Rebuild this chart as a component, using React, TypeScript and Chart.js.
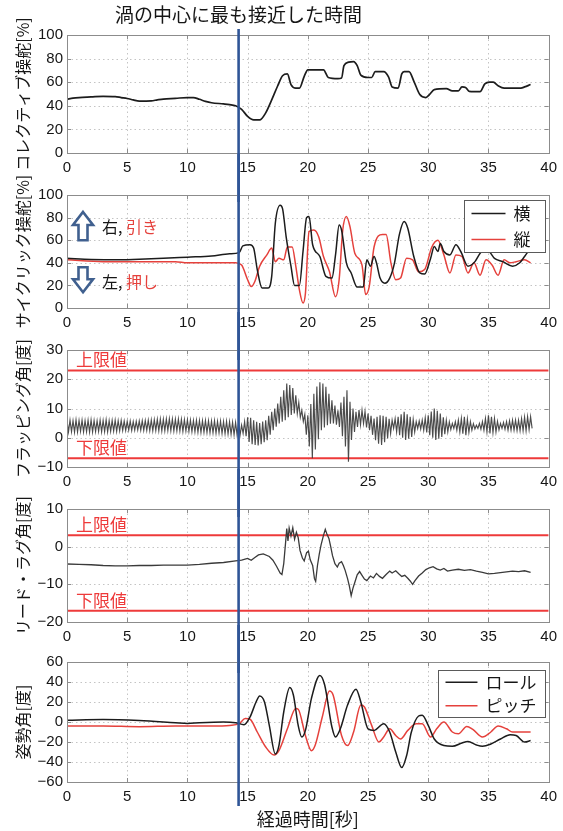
import { useEffect, useRef } from 'react';
import { Chart, registerables } from 'chart.js';

Chart.register(...registerables);

// ---- data -------------------------------------------------------------

type Pt = [number, number];

const TITLE_TEXT = '渦の中心に最も接近した時間';
const X_TITLE = '経過時間[秒]';
const CLOSEST_T = 14.25; // time of closest approach to the vortex core [s]
const X_MIN = 0;
const X_MAX = 40;
const X_STEP = 5;

// collective pitch input [%]
const collective: Pt[] = [
  [0, 45.5], [0.5, 46.5], [1, 47], [2, 47.5], [3, 48], [4, 47.8], [4.5, 47], [5, 46.2], [5.5, 45],
  [6, 44], [7, 44.2], [7.5, 45], [8, 45.7], [9, 46.3], [10, 47], [10.5, 47], [11, 45.5], [11.5, 43.8],
  [12, 42.6], [13, 41.6], [13.5, 41], [14, 40], [14.5, 37], [15, 31], [15.5, 28], [16, 28], [16.5, 34],
  [17, 45], [17.5, 57], [17.9, 65.5], [18.3, 67], [18.6, 58], [19, 55], [19.3, 55], [19.7, 65], [20, 70.5],
  [21.3, 70.5], [21.7, 64], [22.5, 63], [22.8, 63.5], [23, 74], [23.4, 77], [23.8, 77.5], [24.1, 74],
  [24.4, 66], [25, 64], [25.3, 64], [25.6, 69], [26.3, 69], [26.7, 64.5], [27, 56], [27.5, 55], [27.8, 67],
  [28, 69], [28.4, 69], [28.8, 61], [29.3, 49.5], [29.8, 47], [30.1, 49.5], [30.5, 53.7], [31.5, 54.5],
  [32, 52.6], [32.5, 52.6], [32.8, 56], [33.1, 55.5], [33.4, 52.3], [34.3, 52], [34.7, 58.5], [35.1, 60],
  [35.4, 60], [35.8, 57], [36.3, 55], [37.7, 55], [38, 56], [38.5, 58],
];

// cyclic input, lateral (横) [%]
const cyclicLat: Pt[] = [
  [0, 44], [2, 43], [4, 42.6], [6, 43.2], [8, 44], [10, 45], [12, 46], [13.5, 48], [14.3, 49], [14.6, 55],
  [15.2, 56], [15.5, 53], [15.8, 34], [16.2, 17.6], [16.7, 17.6], [17, 28], [17.3, 75], [17.7, 91], [17.9, 88],
  [18.2, 63], [18.6, 37], [18.9, 20], [19.3, 20], [19.6, 50], [19.9, 80], [20.1, 81], [20.4, 56], [21, 45.6],
  [21.5, 28], [22, 26.5], [22.3, 47], [22.6, 73.5], [22.8, 69], [23.2, 40], [23.6, 31], [24.1, 18.5],
  [24.6, 18.5], [24.9, 42.6], [25.2, 37], [25.5, 45.6], [25.7, 40], [26, 26.5], [26.4, 22], [26.8, 26.5],
  [27.2, 40], [27.6, 65], [28, 76.5], [28.3, 70.5], [28.8, 45.6], [29.3, 31], [29.7, 30], [30.2, 44],
  [30.5, 54.4], [30.8, 50], [31, 57], [31.3, 50], [31.8, 47], [32.3, 56], [32.7, 50], [33.3, 37], [33.8, 40],
  [34.5, 50], [35, 50], [35.5, 44], [36.2, 41], [37, 37], [37.6, 40], [38, 45.6], [38.5, 53],
];

// cyclic input, longitudinal (縦) [%]
const cyclicLon: Pt[] = [
  [0, 42.6], [3, 41], [6, 41], [9, 41], [10, 40], [14, 40], [14.5, 38], [15, 25], [15.3, 19], [15.6, 23.5],
  [16, 37], [16.6, 47], [17, 53], [17.3, 41], [17.6, 44], [18, 42.6], [18.3, 54], [18.7, 54], [19, 37],
  [19.3, 16], [19.6, 4.4], [19.8, 13], [20.1, 67.6], [20.5, 69], [20.9, 63], [21.3, 45.6], [21.8, 32],
  [22.3, 10], [22.6, 25], [22.9, 69], [23.2, 81], [23.5, 72], [23.9, 48.5], [24.5, 38], [24.8, 12],
  [25.1, 19], [25.5, 54], [26.2, 65], [26.5, 65], [26.9, 40], [27.3, 25], [27.7, 26.5], [28.2, 44],
  [28.7, 42.6], [29.2, 32], [29.7, 34], [30.3, 54], [30.8, 60], [31.3, 47], [31.8, 31], [32.3, 47],
  [32.8, 45.6], [33.3, 31], [33.8, 40], [34.3, 29], [34.8, 42.6], [35.3, 38], [35.8, 29], [36.3, 42.6],
  [36.8, 40], [37.3, 41], [38, 42.6], [38.5, 40],
];

// flapping angle [deg]: upper / lower swing of each 0.25 s sample
const FLAP_STEP = 0.25;
const flapHi: number[] = [
  5.9, 6.0, 5.8, 6.1, 5.9, 6.0, 5.8, 6.0, 6.1, 5.9, 5.8, 6.0, 5.9, 6.1, 5.8, 5.9, 6.0, 5.8, 5.9, 5.7,
  5.6, 5.7, 5.5, 5.6, 5.7, 5.8, 5.9, 6.0,
  6.1, 6.2, 6.3, 6.4, 6.3, 6.4, 6.5, 6.4, 6.3, 6.4, 6.3, 6.2,
  6.1, 6.0, 5.9, 6.0, 5.9, 5.8, 5.9, 5.8,
  5.7, 5.8, 5.6, 5.7, 5.5, 5.6, 5.5, 5.3, 5.2,
  5.0, 4.3, 5.5, 7.0, 6.8, 6.0, 5.5, 5.0, 5.5, 6.0,
  7.5, 8.9, 10.0, 11.7, 14.0, 16.2, 18.5, 18.0, 17.0, 14.5,
  12.0, 9.4, 8.0, 7.7, 11.5, 15.0, 17.5, 19.0, 18.5, 17.4,
  15.0, 12.8, 11.0, 9.4, 12.0, 14.0, 16.2, 12.3, 10.0, 8.9,
  9.5, 9.4, 9.0, 8.3, 7.5, 6.6, 7.2, 7.7, 7.5, 7.2,
  6.5, 6.0, 6.5, 7.2, 8.0, 8.9, 8.0, 7.2, 6.2, 5.5,
  5.7, 6.0, 6.8, 7.7, 9.0, 10.0, 9.2, 8.3, 7.0, 6.0,
  5.4, 4.9, 5.5, 6.0, 6.6, 7.2, 6.4, 5.5, 4.8, 4.3,
  4.9, 5.5, 6.6, 7.7, 7.2, 6.6, 5.6, 4.9, 5.2, 5.5,
  5.8, 6.0, 6.0, 6.0, 6.5, 7.0, 7.2, 7.2,
];
const flapLo: number[] = [
  2.0, 2.1, 1.9, 2.0, 2.2, 2.0, 2.1, 1.9, 2.0, 2.1, 2.2, 2.0, 2.1, 2.0, 2.2, 2.3, 2.2, 2.4, 2.5, 2.5,
  2.6, 2.5, 2.6, 2.7, 2.6, 2.5, 2.5, 2.4,
  2.4, 2.5, 2.4, 2.3, 2.4, 2.5, 2.4, 2.3, 2.4, 2.3, 2.2, 2.3,
  2.2, 2.1, 2.0, 1.9, 1.8, 1.9, 1.8, 1.7,
  1.7, 1.6, 1.7, 1.5, 1.4, 1.3, 1.2, 1.0, 0.9,
  1.0, 1.5, 0.5, -1.4, -2.2, -2.5, -2.6, -2.2, -1.5, -0.8,
  1.0, 2.6, 3.8, 4.9, 5.5, 6.0, 7.0, 7.8, 8.3, 8.3,
  7.0, 5.5, 1.0, -3.0, -7.0, -4.0, -0.5, 2.6, 3.5, 4.3,
  4.8, 4.9, 4.5, 3.7, 0.5, -3.0, -8.2, -0.8, 2.0, 3.7,
  4.5, 4.9, 3.5, 2.6, 1.0, -0.8, -2.0, -2.5, -1.5, -0.2,
  1.5, 3.2, 2.0, 0.9, 0.0, -0.8, -0.3, 0.3, 2.0, 3.2,
  3.0, 2.6, 1.8, 0.9, 0.0, -0.8, -0.3, 0.3, 1.2, 2.0,
  2.8, 3.2, 2.6, 2.0, 1.4, 0.9, 1.8, 2.6, 3.0, 3.2,
  2.9, 2.6, 2.0, 1.5, 1.8, 2.0, 2.7, 3.2, 2.9, 2.6,
  2.6, 2.6, 2.5, 2.4, 2.4, 2.4, 2.8, 3.2,
];
const FLAP_LIMITS = { upper: 23, lower: -7 };

// lead-lag angle [deg]
const leadLag: Pt[] = [
  [0, -4.6], [1, -4.7], [2, -4.8], [3, -5.0], [4, -5.1], [5, -5.1], [6, -5.0], [7, -5.0], [8, -4.9],
  [9, -4.9], [10, -4.9], [11, -4.7], [12, -4.4], [13, -4.2], [14, -3.8], [14.5, -3.6], [15, -3.1],
  [15.3, -3.6], [15.6, -2.9], [15.9, -2.2], [16.3, -1.9], [16.8, -2.6], [17.1, -3.6], [17.4, -5.2],
  [17.7, -7.0], [17.85, -7.4], [18.0, -4.5], [18.15, 1.0], [18.25, 4.8], [18.35, 1.5], [18.45, 4.9],
  [18.6, 2.8], [18.75, 5.0], [18.9, 2.0], [19.05, 3.8], [19.2, 2.4], [19.35, -1.0], [19.55, -3.0],
  [19.7, -3.8], [19.9, -1.6], [20.05, -1.2], [20.2, -3.5], [20.4, -5.0], [20.55, -8.5], [20.65, -9.2],
  [20.8, -5.0], [20.95, -2.0], [21.1, 0.5], [21.3, 3.0], [21.45, 4.6], [21.6, 3.2], [21.75, 2.2],
  [21.9, 0.0], [22.05, -2.4], [22.25, -4.5], [22.45, -5.4], [22.6, -4.4], [22.8, -4.0], [22.95, -5.0],
  [23.1, -6.3], [23.3, -8.5], [23.45, -10.5], [23.6, -13.0], [23.75, -11.0], [23.9, -9.5], [24.1, -7.5],
  [24.3, -6.6], [24.5, -7.6], [24.7, -8.6], [24.9, -9.0], [25.2, -7.8], [25.45, -8.3], [25.7, -7.1],
  [25.95, -7.9], [26.2, -8.4], [26.5, -7.4], [26.8, -6.5], [27.0, -7.0], [27.3, -6.4], [27.55, -7.2],
  [27.8, -7.9], [28.05, -7.6], [28.3, -8.4], [28.5, -9.1], [28.7, -10.0], [28.9, -9.0], [29.2, -7.8],
  [29.5, -7.0], [29.8, -6.1], [30.1, -5.6], [30.4, -5.3], [30.7, -5.9], [31.0, -6.2], [31.3, -5.8],
  [31.6, -6.5], [32.0, -6.2], [32.5, -6.0], [33.0, -6.3], [33.5, -6.1], [34.0, -6.5], [34.5, -6.8],
  [35.0, -7.2], [35.5, -7.1], [36.0, -6.9], [36.5, -6.7], [37.0, -6.5], [37.5, -6.6], [38.0, -6.4],
  [38.5, -6.8],
];
const LAG_LIMITS = { upper: 3, lower: -17 };

// attitude angles [deg]
const roll: Pt[] = [
  [0, 1.7], [3, 2.4], [6, 1.4], [9, -0.7], [10, -1.4], [11, -0.7], [13, 0], [14, -0.7], [14.7, -2.7],
  [15.2, 5], [15.7, 20], [16, 26], [16.4, 20], [16.8, -3.4], [17.3, -32], [17.6, -23.6], [18, 10],
  [18.5, 34.5], [18.8, 27], [19.2, -3.4], [19.5, -15], [19.8, -8.4], [20.3, 23.6], [21, 46.6], [21.4, 37],
  [22, -5], [22.3, -15], [22.7, -6.8], [23.3, 17], [24, 32.8], [24.4, 20], [25, -6.8], [25.5, -8.4],
  [26.3, -1.7], [26.8, -10], [27.3, -30], [27.8, -45.6], [28.2, -33.8], [28.6, -10], [29.2, 6], [29.5, 6.8],
  [30, -3.4], [30.5, -17], [31.3, -23.6], [32, -24.3], [32.8, -21], [33.3, -19.6], [34, -23], [34.5, -24.3],
  [35.2, -22], [36, -17], [36.8, -12.8], [37.3, -13.5], [38, -20], [38.5, -18.6],
];
const pitch: Pt[] = [
  [0, -4], [3, -4], [6, -4.7], [9, -4], [12, -4], [13.5, -3.4], [14.3, -1.7], [14.8, 3.4], [15.2, 2.7],
  [15.8, -10], [16.5, -25], [17.2, -33], [17.6, -28.7], [18.3, -6.8], [19, 13.5], [19.2, 12.8],
  [19.8, -13.5], [20.3, -28.7], [20.6, -23.6], [21.2, 5], [21.8, 31], [22.1, 27], [22.8, -13.5],
  [23.3, -23.6], [23.8, -10], [24.4, 17], [24.7, 15], [25.3, -3.4], [25.9, -20], [26.3, -15], [26.8, -6.8],
  [27.3, -13.5], [27.7, -17], [28.3, -8.4], [29, -1.7], [29.5, -1.7], [30.2, -15], [30.7, -6.8],
  [31.3, 0], [32, -10], [32.5, -11.8], [33.2, -4.4], [33.7, -7.4], [34.5, -15], [35.2, -10], [35.8, -4],
  [36.5, -6.8], [37, -10], [38.5, -10],
];

// ---- styling ----------------------------------------------------------

const W = 563;
const H = 831;
const PLOT_LEFT = 67;
const PLOT_RIGHT = 551;
const X_AXIS_H = 25;
const OVERLAP = 24; // canvases are transparent and overlap so long labels are not cut
const FONT_JP = '"Noto Sans CJK JP", "Noto Sans", sans-serif';
const FONT_NUM = 'Arial, "Liberation Sans", sans-serif';
const INK = '#161616';
const LINE_BLACK = '#1c1c1c';
const LINE_RED = '#e5413c';
const LIMIT_RED = '#ee3a3a';
const MARK_BLUE = '#2f5597';
const ARROW_BLUE = '#40608f';

const toXY = (pts: Pt[]) => pts.map(([x, y]) => ({ x, y }));

// blade flapping trace: alternate between the upper and lower swing of each sample
const flapTrace = () => {
  const out: { x: number; y: number }[] = [];
  flapHi.forEach((hi, i) => {
    const t = i * FLAP_STEP;
    out.push({ x: t, y: hi });
    out.push({ x: t + FLAP_STEP / 2, y: flapLo[i] });
  });
  return out;
};

const limitLine = (v: number) => ({
  data: [{ x: X_MIN, y: v }, { x: X_MAX, y: v }],
  borderColor: LIMIT_RED,
  borderWidth: 2,
  pointRadius: 0,
  order: 2,
});

interface LegendItem { label: string; color: string }
interface PanelDef {
  key: string;
  top: number; // nominal band top (page px)
  bottom: number; // nominal band bottom (page px)
  plotTop: number;
  plotBottom: number;
  yMin: number;
  yMax: number;
  yStep: number;
  yTitle: string;
  datasets: any[];
  limits?: { upper: number; lower: number };
  legend?: { items: LegendItem[]; w: number; h: number; dy: number; lineW: number };
  arrows?: boolean;
  blueFrom?: number;
  blueTo?: number;
  showTitle?: boolean;
  showXTitle?: boolean;
}

const PANELS: PanelDef[] = [
  {
    key: 'collective', top: 0, bottom: 178, plotTop: 35, plotBottom: 153,
    yMin: 0, yMax: 100, yStep: 20, yTitle: 'コレクティブ操舵[%]',
    datasets: [{ data: toXY(collective), borderColor: LINE_BLACK, borderWidth: 1.7, cubicInterpolationMode: 'monotone' }],
    blueFrom: 29, showTitle: true,
  },
  {
    key: 'cyclic', top: 178, bottom: 336, plotTop: 195, plotBottom: 308,
    yMin: 0, yMax: 100, yStep: 20, yTitle: 'サイクリック操舵[%]',
    datasets: [
      { data: toXY(cyclicLat), borderColor: LINE_BLACK, borderWidth: 1.5, cubicInterpolationMode: 'monotone', order: 1 },
      { data: toXY(cyclicLon), borderColor: LINE_RED, borderWidth: 1.5, cubicInterpolationMode: 'monotone', order: 2 },
    ],
    legend: { items: [{ label: '横', color: LINE_BLACK }, { label: '縦', color: LINE_RED }], w: 81, h: 52, dy: 5, lineW: 34 },
    arrows: true,
  },
  {
    key: 'flap', top: 336, bottom: 493, plotTop: 350, plotBottom: 467,
    yMin: -10, yMax: 30, yStep: 10, yTitle: 'フラッピング角[度]',
    datasets: [
      { data: flapTrace(), borderColor: 'rgba(55,55,55,0.9)', borderWidth: 1.15, order: 1 },
      limitLine(FLAP_LIMITS.upper),
      limitLine(FLAP_LIMITS.lower),
    ],
    limits: FLAP_LIMITS,
  },
  {
    key: 'leadlag', top: 493, bottom: 649, plotTop: 509, plotBottom: 622,
    yMin: -20, yMax: 10, yStep: 10, yTitle: 'リード・ラグ角[度]',
    datasets: [
      { data: toXY(leadLag), borderColor: '#3a3a3a', borderWidth: 1.3, order: 1 },
      limitLine(LAG_LIMITS.upper),
      limitLine(LAG_LIMITS.lower),
    ],
    limits: LAG_LIMITS,
  },
  {
    key: 'attitude', top: 649, bottom: 831, plotTop: 662, plotBottom: 782,
    yMin: -60, yMax: 60, yStep: 20, yTitle: '姿勢角[度]',
    datasets: [
      { data: toXY(roll), borderColor: LINE_BLACK, borderWidth: 1.5, cubicInterpolationMode: 'monotone', order: 1 },
      { data: toXY(pitch), borderColor: LINE_RED, borderWidth: 1.5, cubicInterpolationMode: 'monotone', order: 2 },
    ],
    legend: { items: [{ label: 'ロール', color: LINE_BLACK }, { label: 'ピッチ', color: LINE_RED }], w: 107, h: 47, dy: 8, lineW: 32 },
    blueTo: 806, showXTitle: true,
  },
];

// ---- drawing helpers --------------------------------------------------

function blockArrow(ctx: CanvasRenderingContext2D, cx: number, yTip: number, yTail: number) {
  const dir = yTail > yTip ? 1 : -1;
  const headH = 13;
  const headW = 10;
  const shaftW = 4.5;
  const yNeck = yTip + dir * headH;
  ctx.beginPath();
  ctx.moveTo(cx, yTip);
  ctx.lineTo(cx + headW, yNeck);
  ctx.lineTo(cx + shaftW, yNeck);
  ctx.lineTo(cx + shaftW, yTail);
  ctx.lineTo(cx - shaftW, yTail);
  ctx.lineTo(cx - shaftW, yNeck);
  ctx.lineTo(cx - headW, yNeck);
  ctx.closePath();
  ctx.fillStyle = '#ffffff';
  ctx.fill();
  ctx.lineWidth = 2.6;
  ctx.lineJoin = 'miter';
  ctx.strokeStyle = ARROW_BLUE;
  ctx.stroke();
}

function makeOverlay(p: PanelDef, canvasTop: number) {
  return {
    id: 'panelOverlay',
    beforeDatasetsDraw(chart: any) {
      const { ctx, chartArea: a, scales } = chart;
      ctx.save();
      ctx.strokeStyle = '#c4c4c4';
      ctx.lineWidth = 1;
      ctx.setLineDash([1.5, 3]);
      scales.x.ticks.forEach((t: any) => {
        const px = Math.round(scales.x.getPixelForValue(t.value)) + 0.5;
        ctx.beginPath(); ctx.moveTo(px, a.top); ctx.lineTo(px, a.bottom); ctx.stroke();
      });
      scales.y.ticks.forEach((t: any) => {
        const py = Math.round(scales.y.getPixelForValue(t.value)) + 0.5;
        ctx.beginPath(); ctx.moveTo(a.left, py); ctx.lineTo(a.right, py); ctx.stroke();
      });
      ctx.restore();
    },
    afterDatasetsDraw(chart: any) {
      const { ctx, chartArea: a, scales } = chart;
      ctx.save();
      // axes box with inward tick marks
      ctx.strokeStyle = '#8c8c8c';
      ctx.lineWidth = 1;
      ctx.strokeRect(Math.round(a.left) + 0.5, Math.round(a.top) + 0.5, Math.round(a.right - a.left), Math.round(a.bottom - a.top));
      const tk = 4;
      scales.x.ticks.forEach((t: any) => {
        const px = Math.round(scales.x.getPixelForValue(t.value)) + 0.5;
        ctx.beginPath();
        ctx.moveTo(px, a.bottom); ctx.lineTo(px, a.bottom - tk);
        ctx.moveTo(px, a.top); ctx.lineTo(px, a.top + tk);
        ctx.stroke();
      });
      scales.y.ticks.forEach((t: any) => {
        const py = Math.round(scales.y.getPixelForValue(t.value)) + 0.5;
        ctx.beginPath();
        ctx.moveTo(a.left, py); ctx.lineTo(a.left + tk, py);
        ctx.moveTo(a.right, py); ctx.lineTo(a.right - tk, py);
        ctx.stroke();
      });

      // limit labels
      if (p.limits) {
        ctx.font = `17px ${FONT_JP}`;
        ctx.fillStyle = LIMIT_RED;
        ctx.textAlign = 'left';
        ctx.textBaseline = 'alphabetic';
        ctx.fillText('上限値', a.left + 9, scales.y.getPixelForValue(p.limits.upper) - 4);
        ctx.fillText('下限値', a.left + 9, scales.y.getPixelForValue(p.limits.lower) - 4);
      }

      // stick direction hints
      if (p.arrows) {
        const cx = a.left + 16;
        blockArrow(ctx, cx, scales.y.getPixelForValue(85), scales.y.getPixelForValue(60));
        blockArrow(ctx, cx, scales.y.getPixelForValue(14), scales.y.getPixelForValue(36));
        ctx.font = `16px ${FONT_JP}`;
        ctx.textBaseline = 'middle';
        ctx.textAlign = 'left';
        const tx = a.left + 35;
        const rows: [string, string, number][] = [['右, ', '引き', 72], ['左, ', '押し', 23]];
        rows.forEach(([head, tail, v]) => {
          const y = scales.y.getPixelForValue(v);
          ctx.fillStyle = INK;
          ctx.fillText(head, tx, y);
          const w = ctx.measureText(head).width;
          ctx.fillStyle = LINE_RED;
          ctx.fillText(tail, tx + w, y);
        });
      }

      // legend box
      if (p.legend) {
        const L = p.legend;
        const bx = Math.round(a.right - 4 - L.w) + 0.5;
        const by = Math.round(a.top + L.dy) + 0.5;
        ctx.fillStyle = '#ffffff';
        ctx.fillRect(bx, by, L.w, L.h);
        ctx.strokeStyle = '#5a5a5a';
        ctx.lineWidth = 1;
        ctx.strokeRect(bx, by, L.w, L.h);
        ctx.font = `17px ${FONT_JP}`;
        ctx.textBaseline = 'middle';
        ctx.textAlign = 'left';
        const rowH = L.h / L.items.length;
        L.items.forEach((it, i) => {
          const y = by + rowH * (i + 0.5);
          ctx.strokeStyle = it.color;
          ctx.lineWidth = 1.6;
          ctx.beginPath();
          ctx.moveTo(bx + 7, y); ctx.lineTo(bx + 7 + L.lineW, y);
          ctx.stroke();
          ctx.fillStyle = INK;
          ctx.fillText(it.label, bx + L.lineW + 15, y);
        });
      }
      ctx.restore();
    },
    afterDraw(chart: any) {
      const { ctx, chartArea: a, scales, height } = chart;
      ctx.save();
      // vertical marker at the closest-approach time
      const bx = scales.x.getPixelForValue(CLOSEST_T);
      const y0 = p.blueFrom !== undefined ? p.blueFrom - canvasTop : 0;
      const y1 = p.blueTo !== undefined ? p.blueTo - canvasTop : height;
      ctx.strokeStyle = MARK_BLUE;
      ctx.lineWidth = 2.6;
      ctx.beginPath(); ctx.moveTo(bx, y0); ctx.lineTo(bx, y1); ctx.stroke();

      // y-axis label, rotated
      ctx.fillStyle = INK;
      ctx.font = `16px ${FONT_JP}`;
      ctx.textAlign = 'center';
      ctx.textBaseline = 'middle';
      ctx.save();
      ctx.translate(23, (a.top + a.bottom) / 2);
      ctx.rotate(-Math.PI / 2);
      ctx.fillText(p.yTitle, 0, 0);
      ctx.restore();

      if (p.showTitle) {
        ctx.font = `19px ${FONT_JP}`;
        ctx.fillText(TITLE_TEXT, bx, 15 - canvasTop);
      }
      if (p.showXTitle) {
        ctx.font = `18px ${FONT_JP}`;
        ctx.fillText(X_TITLE, (a.left + a.right) / 2, 819 - canvasTop);
      }
      ctx.restore();
    },
  };
}

const minusSign = (v: number | string) => String(v).replace('-', '\u2212');

function PanelChart({ p }: { p: PanelDef }) {
  const ref = useRef<HTMLCanvasElement>(null);
  const cTop = Math.max(0, p.top - OVERLAP);
  const cBottom = Math.min(H, p.bottom + OVERLAP);
  const h = cBottom - cTop;
  useEffect(() => {
    if (!ref.current) return;
    const padTop = p.plotTop - cTop;
    const padBottom = cBottom - p.plotBottom - X_AXIS_H;
    const chart = new Chart(ref.current, {
      type: 'line',
      data: {
        datasets: p.datasets.map((d) => ({ pointRadius: 0, fill: false, ...d })),
      },
      options: {
        responsive: false,
        animation: false,
        devicePixelRatio: 1,
        layout: { padding: { top: padTop, bottom: padBottom, left: 0, right: W - PLOT_RIGHT } },
        plugins: { legend: { display: false }, tooltip: { enabled: false }, title: { display: false } },
        scales: {
          x: {
            type: 'linear',
            min: X_MIN,
            max: X_MAX,
            grid: { display: false, drawTicks: false },
            border: { display: false },
            ticks: {
              stepSize: X_STEP,
              autoSkip: false,
              maxRotation: 0,
              padding: 6,
              color: INK,
              font: { family: FONT_NUM, size: 15 },
            },
            afterFit: (s: any) => { s.height = X_AXIS_H; },
          },
          y: {
            type: 'linear',
            min: p.yMin,
            max: p.yMax,
            grid: { display: false, drawTicks: false },
            border: { display: false },
            ticks: {
              stepSize: p.yStep,
              autoSkip: false,
              padding: 4,
              color: INK,
              font: { family: FONT_NUM, size: 15 },
              callback: (v: any) => minusSign(v),
            },
            afterFit: (s: any) => { s.width = PLOT_LEFT; },
          },
        },
      } as any,
      plugins: [makeOverlay(p, cTop)],
    });
    return () => chart.destroy();
  }, [p, cTop, cBottom]);
  return (
    <canvas
      ref={ref}
      width={W}
      height={h}
      style={{ position: 'absolute', left: 0, top: cTop, width: W, height: h, display: 'block' }}
    />
  );
}

export default function App() {
  return (
    <div style={{ position: 'fixed', left: 0, top: 0, width: W, height: H, background: '#ffffff', overflow: 'hidden' }}>
      {PANELS.map((p) => (
        <PanelChart key={p.key} p={p} />
      ))}
    </div>
  );
}
